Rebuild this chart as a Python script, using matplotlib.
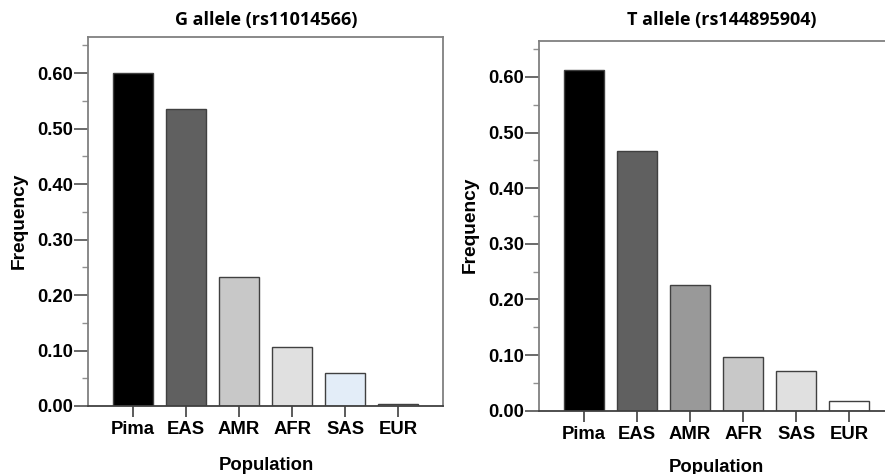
import matplotlib
matplotlib.use("Agg")
import matplotlib.pyplot as plt
from matplotlib.ticker import MultipleLocator, FormatStrFormatter

populations = ["Pima", "EAS", "AMR", "AFR", "SAS", "EUR"]
g_allele = [0.600, 0.535, 0.232, 0.106, 0.059, 0.003]
t_allele = [0.612, 0.466, 0.226, 0.097, 0.071, 0.018]
g_colors = ["#000000", "#606060", "#c8c8c8", "#e0e0e0", "#e3edf8", "#ffffff"]
t_colors = ["#000000", "#606060", "#999999", "#c8c8c8", "#e0e0e0", "#ffffff"]

plt.rcParams["font.family"] = ["Liberation Sans", "DejaVu Sans"]
plt.rcParams["font.weight"] = "bold"

W, H = 885, 474
fig = plt.figure(figsize=(W / 100, H / 100), dpi=100)


def panel(rect, values, colors, title, title_xy, ylab_xy, xlab_xy):
    ax = fig.add_axes(rect)
    x = range(len(populations))
    ax.bar(x, values, width=0.75, color=colors, edgecolor="#404040", linewidth=1.0)
    ax.set_xlim(-0.84, 5.84)
    ax.set_ylim(0, 0.665)
    ax.set_xticks(list(x))
    ax.set_xticklabels(populations, fontsize=13.3, fontweight="bold")
    ax.yaxis.set_major_locator(MultipleLocator(0.1))
    ax.yaxis.set_minor_locator(MultipleLocator(0.05))
    ax.yaxis.set_major_formatter(FormatStrFormatter("%.2f"))
    for lab in ax.get_yticklabels():
        lab.set_fontsize(13.3)
        lab.set_fontweight("bold")
    ax.tick_params(axis="y", which="major", length=10, width=1.2, color="#505050", pad=0.5)
    ax.tick_params(axis="y", which="minor", length=4, width=1.0, color="#909090")
    ax.tick_params(axis="x", which="major", length=8, width=1.2, color="#404040", pad=3)
    for s in ax.spines.values():
        s.set_color("#808080")
        s.set_linewidth(1.3)
    ax.spines["bottom"].set_color("#404040")
    fig.text(title_xy[0] / W, 1 - title_xy[1] / H, title, ha="center", va="center",
             fontsize=13, fontweight="bold", family=["Open Sans", "DejaVu Sans"])
    fig.text(ylab_xy[0] / W, 1 - ylab_xy[1] / H, "Frequency", ha="center", va="center",
             rotation=90, fontsize=13.8, fontweight="bold")
    fig.text(xlab_xy[0] / W, 1 - xlab_xy[1] / H, "Population", ha="center", va="center",
             fontsize=13.3, fontweight="bold")
    return ax


panel([88 / W, 1 - 406 / H, 355 / W, 369 / H], g_allele, g_colors,
      "G allele (rs11014566)", (266.7, 20), (19, 221), (266.7, 465))
panel([539 / W, 1 - 410.7 / H, 355 / W, 370 / H], t_allele, t_colors,
      "T allele (rs144895904)", (721.7, 20.5), (470, 225), (716.7, 467))

fig.savefig("out.png", dpi=100)
